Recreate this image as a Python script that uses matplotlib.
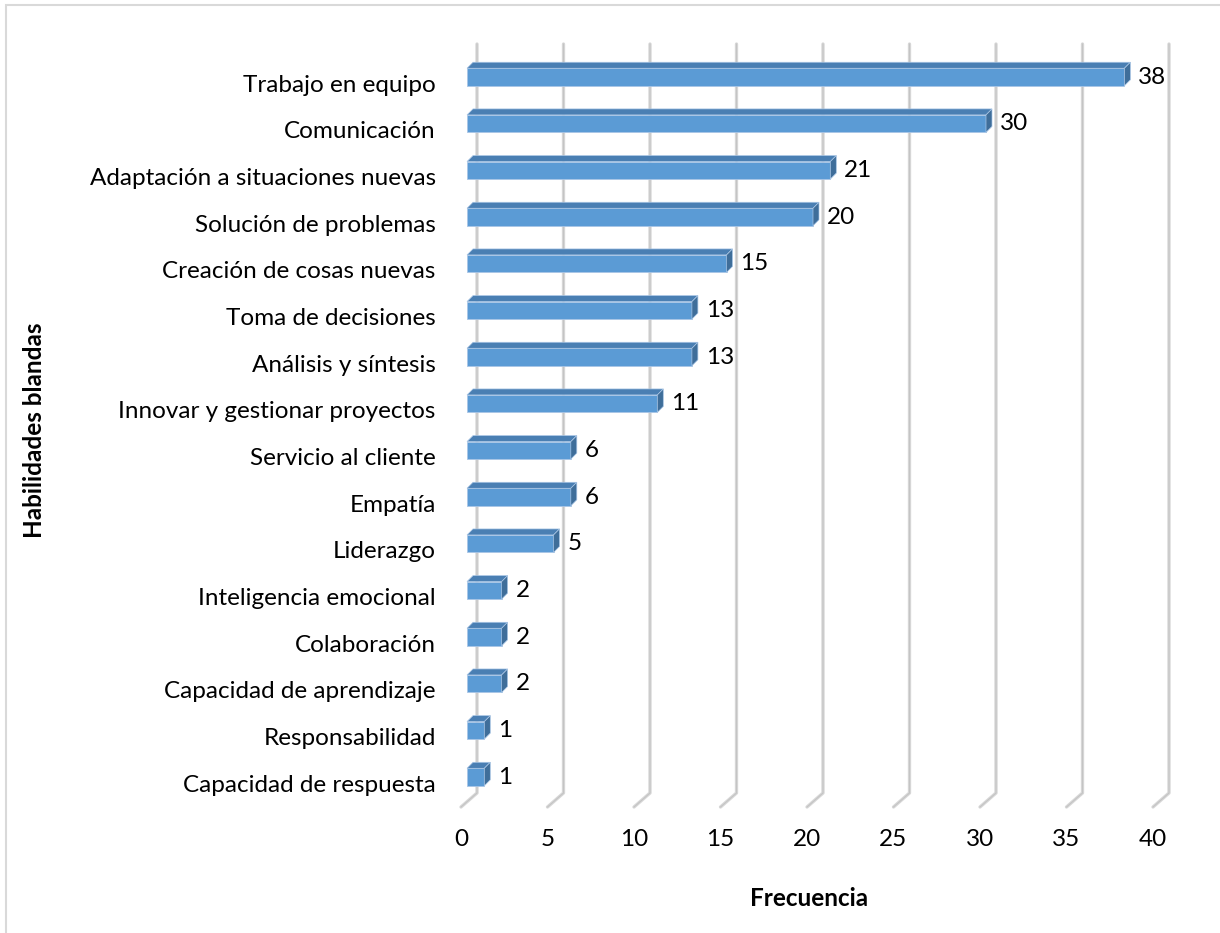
import matplotlib.pyplot as plt
from matplotlib.patches import Polygon, Rectangle

plt.rcParams["font.family"] = ["Lato", "DejaVu Sans"]

# data (top to bottom as shown)
skills = [
    "Trabajo en equipo",
    "Comunicación",
    "Adaptación a situaciones nuevas",
    "Solución de problemas",
    "Creación de cosas nuevas",
    "Toma de decisiones",
    "Análisis y síntesis",
    "Innovar y gestionar proyectos",
    "Servicio al cliente",
    "Empatía",
    "Liderazgo",
    "Inteligencia emocional",
    "Colaboración",
    "Capacidad de aprendizaje",
    "Responsabilidad",
    "Capacidad de respuesta",
]
counts = [38, 30, 21, 20, 15, 13, 13, 11, 6, 6, 5, 2, 2, 2, 1, 1]
x_ticks = [0, 5, 10, 15, 20, 25, 30, 35, 40]

FRONT = "#5b9bd5"
TOP = "#4a7fb3"
SIDE = "#3f6e9a"
EDGE = "#a9c6e6"
FS = 17.5

# pixel geometry of the 3-D look
PX_X = 1 / 17.3   # data units per pixel, horizontal
PX_Y = 1 / 46.67  # category units per pixel, vertical
DEPTH_X, DEPTH_Y = 6 * PX_X, 6 * PX_Y
BAR_H = 17.5 * PX_Y
BAR_SHIFT = 6 * PX_Y
WALL_X = 10 * PX_X
FLOOR_X = 6 * PX_X

fig = plt.figure(figsize=(12.2, 9.33), dpi=100)
W, H = 1220, 933
ax = fig.add_axes([440 / W, (H - 807) / H, 750 / W, (807 - 44) / H])

x0 = (440 - 467) * PX_X
x1 = (1190 - 467) * PX_X
y_top = (44 - 83) * PX_Y
y_bot = (807 - 83) * PX_Y
y_wall = (793 - 83) * PX_Y
ax.set_xlim(x0, x1)
ax.set_ylim(y_bot, y_top)

# back-wall gridlines with floor return
for v in x_ticks:
    xs = [v + WALL_X, v + WALL_X, v - FLOOR_X]
    ys = [y_top, y_wall, y_bot]
    ax.plot(xs, ys, color="#d8d8d8", lw=2.4, solid_capstyle="round",
            solid_joinstyle="round", zorder=1, clip_on=False)
    ax.plot(xs, ys, color="#c4c4c4", lw=0.8, zorder=1.1, clip_on=False)

# bars
for i, c in enumerate(counts):
    yc = i - BAR_SHIFT
    top_y = yc - BAR_H / 2
    bot_y = yc + BAR_H / 2
    ax.barh(yc, c, height=BAR_H, left=0, color=FRONT, edgecolor=EDGE,
            linewidth=0.6, zorder=3)
    ax.add_patch(Polygon([(0, top_y), (DEPTH_X, top_y - DEPTH_Y),
                          (c + DEPTH_X, top_y - DEPTH_Y), (c, top_y)],
                         closed=True, facecolor=TOP, edgecolor=EDGE,
                         linewidth=0.5, zorder=3))
    ax.add_patch(Polygon([(c, top_y), (c + DEPTH_X, top_y - DEPTH_Y),
                          (c + DEPTH_X, bot_y - DEPTH_Y), (c, bot_y)],
                         closed=True, facecolor=SIDE, edgecolor=EDGE,
                         linewidth=0.5, zorder=3))
    ax.annotate(str(c), xy=(c, yc), xytext=(10, 0), textcoords="offset points",
                ha="left", va="center", fontsize=FS, color="black", zorder=4)

ax.set_yticks(range(len(skills)))
ax.set_yticklabels(skills, fontsize=FS)
ax.set_xticks([v - FLOOR_X for v in x_ticks])
ax.set_xticklabels([str(v) for v in x_ticks], fontsize=FS)
ax.tick_params(axis="both", length=0)
ax.tick_params(axis="x", pad=16)
ax.tick_params(axis="y", pad=3)
for s in ax.spines.values():
    s.set_visible(False)

fig.text(35 / W, 1 - 430 / H, "Habilidades blandas", rotation=90,
         ha="center", va="center", fontsize=FS, fontweight="bold")
fig.text(809 / W, 1 - 898 / H, "Frecuencia", ha="center", va="center",
         fontsize=FS, fontweight="bold")

fig.patches.append(Rectangle((6 / W, -0.05), 1.2, 1 - 5 / H + 0.05,
                             transform=fig.transFigure, fill=False,
                             edgecolor="#d9d9d9", linewidth=1.5))

fig.savefig("out.png", dpi=100)
